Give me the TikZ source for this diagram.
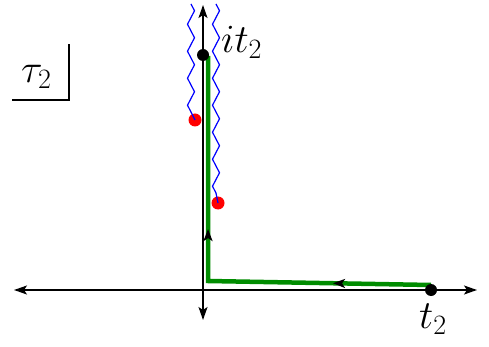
\RequirePackage{fix-cm}
\documentclass[tikz,border=0pt]{standalone}
\usetikzlibrary{arrows.meta,decorations.pathmorphing,decorations.markings}
\newcommand{\bigtxt}[1]{{\fontsize{40}{44}\selectfont #1}}
\begin{document}
\begin{tikzpicture}[x=1pt,y=-1pt,
  axis/.style={line width=1.6pt,{Stealth[length=13pt,width=9pt,inset=3pt]}-{Stealth[length=13pt,width=9pt,inset=3pt]}},
  dotblk/.style={circle,fill=black,inner sep=0pt,minimum size=12pt},
  dotred/.style={circle,fill=red,inner sep=0pt,minimum size=13pt},
  wave/.style={blue,line width=1.2pt,decorate,decoration={zigzag,segment length=27pt,amplitude=3.5pt}},
  greenpath/.style={green!55!black,line width=4.5pt,line join=miter},
  lbl/.style={inner sep=0pt,anchor=base west}]
\useasboundingbox (0,0) rectangle (489,347);
% axes
\coordinate (xl) at (14,290);
\coordinate (xr) at (477,290);
\coordinate (yt) at (203,5);
\coordinate (yb) at (203,320);
\draw[axis] (xl) -- (xr);
\draw[axis] (yb) -- (yt);
% box tau
\node[lbl] (tau) at (21,83) {\bigtxt{$\tau_2$}};
\coordinate (bl) at (12,100);
\coordinate (br) at (69,100);
\coordinate (bt) at (69,44);
\draw[line width=1.4pt] (bl) -- (br) -- (bt);
% wavy lines
\node[dotred] (r1) at (195,120) {};
\node[dotred] (r2) at (218,203) {};
\coordinate (w1t) at (191,4);
\coordinate (w1b) at (191,112);
\coordinate (w2t) at (216,4);
\coordinate (w2b) at (216,193);
\draw[wave] (w1t) -- (w1b);
\draw[blue,line width=1.2pt] (w1b) -- (r1.center);
\draw[wave] (w2t) -- (w2b);
\draw[blue,line width=1.2pt] (w2b) -- (r2.center);
% green path
\coordinate (gs) at (431,285);
\coordinate (gc) at (208,281);
\coordinate (ge) at (208,56);
\draw[greenpath,postaction={decorate,decoration={markings,
   mark=at position 98pt with {\arrow[black]{Stealth[length=12pt,width=9pt,inset=3pt]}},
   mark=at position 275pt with {\arrow[black]{Stealth[length=12pt,width=9pt,inset=3pt]}}}}]
   (gs) -- (gc) -- (ge);
% dots and labels
\node[dotblk] (t2) at (431,290) {};
\node[dotblk] (it2) at (203,55) {};
\node[lbl] (it2l) at (221,53) {\bigtxt{$it_2$}};
\node[lbl] (t2l) at (419,328) {\bigtxt{$t_2$}};
\end{tikzpicture}
\end{document}
